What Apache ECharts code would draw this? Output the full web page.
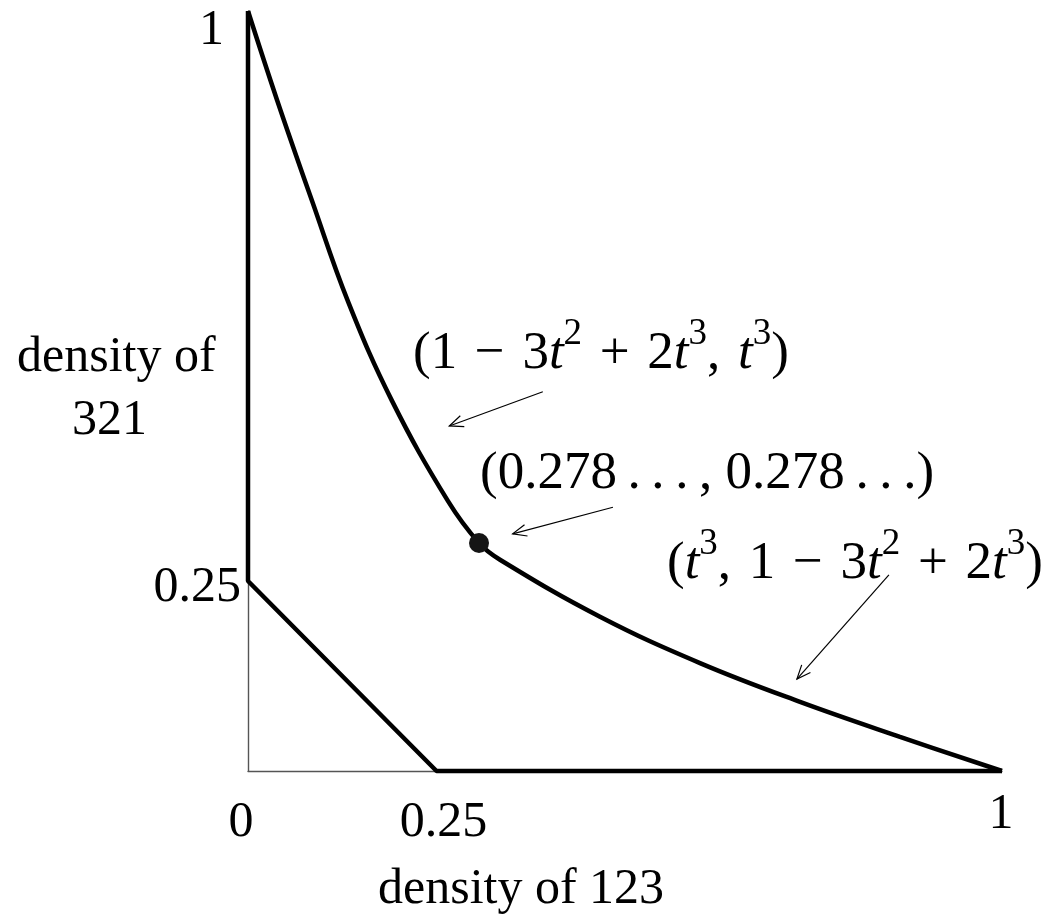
<!DOCTYPE html>
<html>
<head>
<meta charset="utf-8">
<title>density of 123 / density of 321</title>
<script src="https://cdn.jsdelivr.net/npm/echarts@6/dist/echarts.min.js"></script>
<style>
html, body { margin: 0; padding: 0; background: #fff; }
#myChart { width: 1054px; height: 919px; }
</style>
</head>
<body>
<div id="myChart"></div>
<script>
// lower boundary: (0,1) -> (0,0.25) -> (0.25,0) -> (1,0)
var boundaryX = [0, 0, 0.25, 1];
var boundaryY = [1, 0.25, 0, 0];

// upper curve
var curveX = [0, 0.0385, 0.085, 0.1326, 0.191, 0.2653, 0.3064, 0.3342, 0.4668, 0.5995, 0.7321, 0.8647, 1];
var curveY = [1, 0.883, 0.750, 0.618, 0.487, 0.355, 0.300, 0.278, 0.203, 0.142, 0.091, 0.045, 0];

// marked point on the curve
var pointX = [0.3064];
var pointY = [0.300];

// arrows (tail -> tip)
var arrowTailX = [0.391, 0.484, 0.850];
var arrowTailY = [0.499, 0.347, 0.258];
var arrowTipX = [0.267, 0.351, 0.728];
var arrowTipY = [0.454, 0.312, 0.121];

// tick labels
var xTicks = [0, 0.25, 1];
var xTickLabels = ['0', '0.25', '1'];
var yTicks = [0.25, 1];
var yTickLabels = ['0.25', '1'];

var FONT = '"Liberation Serif", "DejaVu Serif", serif';

let myChart = echarts.init(document.getElementById('myChart'));

var option = {
  animation: false,
  backgroundColor: '#fff',
  grid: { left: 248, top: 11, right: 52, bottom: 148 },
  xAxis: {
    type: 'value', min: 0, max: 1,
    axisLine: { show: true, lineStyle: { color: '#555', width: 1.4 } },
    axisTick: { show: false }, axisLabel: { show: false }, splitLine: { show: false }
  },
  yAxis: {
    type: 'value', min: 0, max: 1,
    axisLine: { show: true, lineStyle: { color: '#555', width: 1.4 } },
    axisTick: { show: false }, axisLabel: { show: false }, splitLine: { show: false }
  },
  series: [
    {
      type: 'line',
      data: boundaryX.map(function (v, i) { return [v, boundaryY[i]]; }),
      symbol: 'none', clip: false,
      lineStyle: { color: '#000', width: 4.5 },
      z: 3
    },
    {
      type: 'line',
      data: curveX.map(function (v, i) { return [v, curveY[i]]; }),
      symbol: 'none', clip: false,
      smooth: 0.4,
      lineStyle: { color: '#000', width: 4.5 },
      z: 3
    },
    {
      type: 'scatter',
      data: pointX.map(function (v, i) { return [v, pointY[i]]; }),
      symbol: 'circle', symbolSize: 20, clip: false,
      itemStyle: { color: '#151515', opacity: 1 },
      z: 5
    },
    {
      type: 'custom',
      clip: false,
      encode: { x: [0, 2], y: [1, 3] },
      data: arrowTailX.map(function (v, i) { return [v, arrowTailY[i], arrowTipX[i], arrowTipY[i]]; }),
      renderItem: function (params, api) {
        var a = api.coord([api.value(0), api.value(1)]);
        var b = api.coord([api.value(2), api.value(3)]);
        var ang = Math.atan2(b[1] - a[1], b[0] - a[0]);
        var len = 15, half = 0.4;
        var w1 = [b[0] - len * Math.cos(ang - half), b[1] - len * Math.sin(ang - half)];
        var w2 = [b[0] - len * Math.cos(ang + half), b[1] - len * Math.sin(ang + half)];
        return {
          type: 'group',
          children: [
            { type: 'line', shape: { x1: a[0], y1: a[1], x2: b[0], y2: b[1] }, style: { stroke: '#000', lineWidth: 1.2 } },
            { type: 'polyline', shape: { points: [w1, b, w2] }, style: { stroke: '#000', lineWidth: 1.2, fill: null } }
          ]
        };
      },
      z: 4
    }
  ]
};
myChart.setOption(option);

// text: tick labels, axis titles, formulas
function txt(x, y, s, align, size) {
  return {
    type: 'text', x: x, y: y, silent: true,
    style: {
      text: s, fill: '#000',
      font: (size || 50) + 'px ' + FONT,
      align: align || 'left', verticalAlign: 'middle',
      textAlign: align || 'left', textVerticalAlign: 'middle'
    }
  };
}
var mathRich = {
  m: { fontFamily: FONT, fontSize: 53, lineHeight: 77, color: '#000' },
  i: { fontFamily: FONT, fontSize: 53, lineHeight: 77, fontStyle: 'italic', color: '#000' },
  s: { fontFamily: FONT, fontSize: 37, lineHeight: 30, verticalAlign: 'top', color: '#000' }
};
function mathTxt(x, y, s) {
  return {
    type: 'text', x: x, y: y, silent: true,
    style: {
      text: s, rich: mathRich, fill: '#000',
      font: '53px ' + FONT,
      align: 'left', verticalAlign: 'middle',
      textAlign: 'left', textVerticalAlign: 'middle'
    }
  };
}

var xOff = [[-7, 52], [7, 52], [-1, 44]];
var yOff = [[-7, 7], [-24, 20]];
var els = [];
xTicks.forEach(function (v, i) {
  var p = myChart.convertToPixel({ gridIndex: 0 }, [v, 0]);
  els.push(txt(p[0] + xOff[i][0], p[1] + xOff[i][1], xTickLabels[i], 'center'));
});
yTicks.forEach(function (v, i) {
  var p = myChart.convertToPixel({ gridIndex: 0 }, [0, v]);
  els.push(txt(p[0] + yOff[i][0], p[1] + yOff[i][1], yTickLabels[i], 'right'));
});
els.push(txt(378, 890, 'density of 123', 'left'));
els.push(txt(17, 358, 'density of', 'left'));
els.push(txt(72, 421, '321', 'left'));

var sp = '\u2004';
els.push(mathTxt(413, 354, '{m|(1' + sp + '−' + sp + '3}{i|t}{s|2}{m|' + sp + '+' + sp + '2}{i|t}{s|3}{m|,' + sp + '}{i|t}{s|3}{m|)}'));
els.push(mathTxt(480, 474, '{m|(0.278\u2009.\u2009.\u2009.\u2009, 0.278\u2009.\u2009.\u2009.)}'));
els.push(mathTxt(667, 564, '{m|(}{i|t}{s|3}{m|,' + sp + '1' + sp + '−' + sp + '3}{i|t}{s|2}{m|' + sp + '+' + sp + '2}{i|t}{s|3}{m|)}'));

myChart.setOption({ graphic: { elements: els } });
</script>
</body>
</html>
